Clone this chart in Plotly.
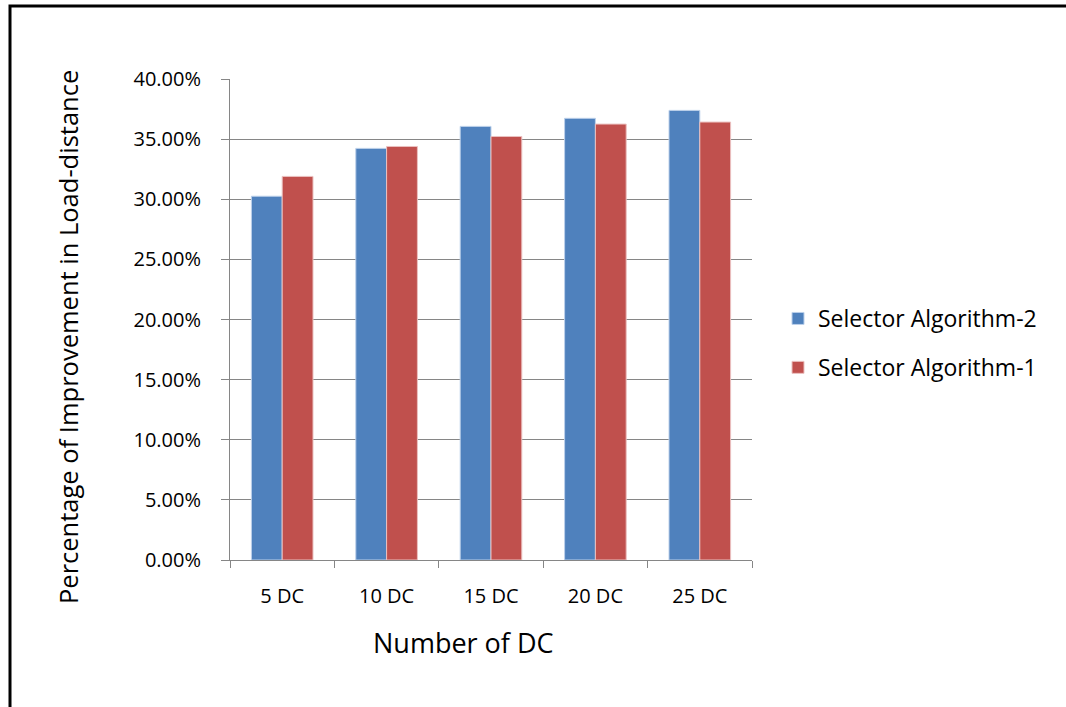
import plotly.graph_objects as go

categories = ["5 DC", "10 DC", "15 DC", "20 DC", "25 DC"]
algo2 = [0.3025, 0.3423, 0.3606, 0.3673, 0.3739]
algo1 = [0.3190, 0.3439, 0.3522, 0.3625, 0.3642]
y_ticks = [0, 0.05, 0.10, 0.15, 0.20, 0.25, 0.30, 0.35, 0.40]

FONT = "'Open Sans', sans-serif"

fig = go.Figure()
fig.add_trace(go.Bar(name="Selector Algorithm-2", x=categories, y=algo2,
                     marker=dict(color="#4F81BD", line=dict(color="#BCD0EA", width=1)),
                     legendgroup="a"))
fig.add_trace(go.Bar(name="Selector Algorithm-1", x=categories, y=algo1,
                     marker=dict(color="#C0504D", line=dict(color="#EBC1C0", width=1)),
                     legendgroup="b"))

L, R, T, B = 230, 752, 79, 560
W, H = 1066, 707
pw, ph = R - L, B - T
def px(x): return (x - L) / pw
def py(y): return 1 - (y - T) / ph

fig.update_layout(
    width=W, height=H,
    margin=dict(l=L, r=W - R, t=T, b=H - B, pad=0),
    paper_bgcolor="white", plot_bgcolor="white",
    barmode="group", bargap=0.41, bargroupgap=0,
    font=dict(family=FONT, size=20, color="#000000"),
    legend=dict(x=px(778), y=py(297), xanchor="left", yanchor="top",
                font=dict(size=23), tracegroupgap=16, itemwidth=30,
                bgcolor="rgba(0,0,0,0)"),
    xaxis=dict(
        type="category", showline=True, linecolor="#868686", linewidth=1,
        ticks="outside", tickson="boundaries", ticklen=7, tickcolor="#868686",
        showgrid=False, ticklabelstandoff=18, tickfont=dict(size=20),
    ),
    yaxis=dict(
        range=[0, 0.40], tickvals=y_ticks, tickformat=".2%",
        showline=True, linecolor="#868686", linewidth=1,
        ticks="outside", ticklen=8, tickcolor="#868686",
        showgrid=True, gridcolor="#868686", gridwidth=1,
        zeroline=False, ticklabelstandoff=16, tickfont=dict(size=20),
    ),
    annotations=[
        dict(text="Number of DC", xref="paper", yref="paper",
             x=px(463), y=py(642), xanchor="center", yanchor="middle",
             showarrow=False, font=dict(size=27)),
        dict(text="Percentage of Improvement in Load-distance",
             xref="paper", yref="paper", x=px(68), y=py(337),
             xanchor="center", yanchor="middle", textangle=-90,
             showarrow=False, font=dict(size=25.5)),
    ],
    shapes=[dict(type="path", xref="paper", yref="paper",
                 path=f"M {px(10)} {py(730)} L {px(10)} {py(6)} L {px(1090)} {py(6)}",
                 line=dict(color="black", width=3))],
)

fig.write_html("out.html", config={"displayModeBar": False},
               post_script="document.body.style.margin='0';")
